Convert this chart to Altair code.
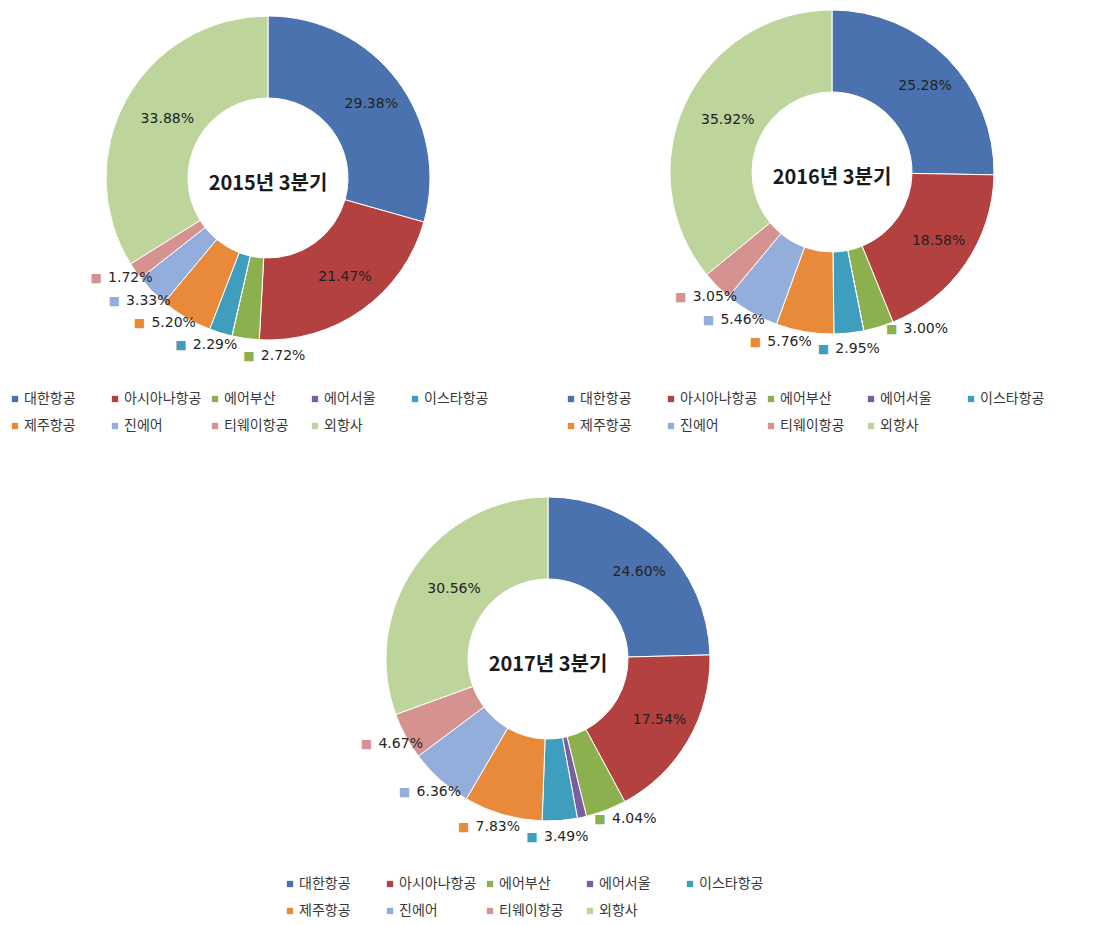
import math
import altair as alt
import pandas as pd

# ---------------- data ----------------
airlines = ["대한항공", "아시아나항공", "에어부산", "에어서울", "이스타항공",
            "제주항공", "진에어", "티웨이항공", "외항사"]
colors = ["#4A72AE", "#B3413F", "#8DB04F", "#7A5EA0", "#3F9EBD",
          "#E98A3B", "#93AEDB", "#D69290", "#BDD49B"]

share_2015 = [29.38, 21.47, 2.72, 0.0, 2.29, 5.20, 3.33, 1.72, 33.88]
share_2016 = [25.28, 18.58, 3.00, 0.0, 2.95, 5.76, 5.46, 3.05, 35.92]
share_2017 = [24.60, 17.54, 4.04, 0.91, 3.49, 7.83, 6.36, 4.67, 30.56]
titles = ["2015년 3분기", "2016년 3분기", "2017년 3분기"]

# ---------------- style / layout ----------------
OUTER_R = 162
INNER_R = 80
IN_LABEL_R = 122
OUT_LABEL_R = 178
panels_layout = [
    # donut centre (x, y), legend top-left (x, y)
    dict(c=(260, 167), lg=(0, 381)),
    dict(c=(824, 161), lg=(556, 381)),
    dict(c=(540, 648), lg=(275, 866)),
]
PCT_FONT = "DejaVu Sans"
KR_FONT = "Noto Sans CJK KR"


def outside_positions(values, R=OUT_LABEL_R, W=68, H=22):
    """Spread the small-slice labels around their slice mid-points so they don't collide."""
    total = sum(values)
    mids, cum = [], 0.0
    for v in values:
        mids.append(cum + v / 2)
        cum += v
    idx = sorted([i for i, v in enumerate(values) if 1 <= v < 10], key=lambda i: mids[i])
    pos = {i: mids[i] for i in idx}

    def xy(p):
        a = p / total * 2 * math.pi
        return R * math.sin(a), -R * math.cos(a)

    for _ in range(20000):
        moved = False
        for a, b in zip(idx, idx[1:]):
            xa, ya = xy(pos[a])
            xb, yb = xy(pos[b])
            if abs(xa - xb) < W and abs(ya - yb) < H:
                pos[a] -= 0.02
                pos[b] += 0.02
                moved = True
        if not moved:
            break
    return idx, pos


def panel(values, title, layout):
    cx, cy = layout["c"]
    lx, ly = layout["lg"]
    df = pd.DataFrame({
        "name": airlines,
        "value": values,
        "idx": list(range(len(airlines))),
        "inlabel": [f"{v:.2f}%" if v >= 10 else "" for v in values],
    })
    idx, pos = outside_positions(values)
    out_df = pd.DataFrame({
        "name": [airlines[i] for i in idx],
        "lpos": [pos[i] for i in idx],
        "label": [f"{values[i]:.2f}%" for i in idx],
        "sq": ["■" for _ in idx],
    })
    color = alt.Color(
        "name:N",
        scale=alt.Scale(domain=airlines, range=colors),
        legend=alt.Legend(
            title=None, orient="none", legendX=lx, legendY=ly, columns=5,
            direction="horizontal", gridAlign="all", symbolType="square",
            symbolSize=40, symbolStrokeWidth=0, labelFont=KR_FONT,
            labelFontSize=14, labelColor="#383838", labelOffset=2,
            columnPadding=6, rowPadding=13, padding=0,
        ),
    )
    arcs = alt.Chart(df).mark_arc(
        innerRadius=INNER_R, outerRadius=OUTER_R, stroke="white", strokeWidth=1
    ).encode(
        theta=alt.Theta("value:Q", stack=True),
        color=color,
        order=alt.Order("idx:Q"),
        x=alt.value(cx), y=alt.value(cy),
    )
    inside = alt.Chart(df).mark_text(
        radius=IN_LABEL_R, font=PCT_FONT, fontSize=14, color="#222222",
        align="center", baseline="middle", dx=6,
    ).encode(
        theta=alt.Theta("value:Q", stack=True),
        order=alt.Order("idx:Q"),
        detail="name:N",
        text="inlabel:N",
        x=alt.value(cx), y=alt.value(cy),
    )
    squares = alt.Chart(out_df).mark_text(
        radius=OUT_LABEL_R, font=PCT_FONT, fontSize=12, align="center",
        baseline="middle", dx=-25,
    ).encode(
        theta=alt.Theta("lpos:Q", stack=False),
        color=alt.Color("name:N", scale=alt.Scale(domain=airlines, range=colors), legend=None),
        text="sq:N",
        x=alt.value(cx), y=alt.value(cy),
    )
    outside = alt.Chart(out_df).mark_text(
        radius=OUT_LABEL_R, font=PCT_FONT, fontSize=14, color="#262626",
        align="left", baseline="middle", dx=-13,
    ).encode(
        theta=alt.Theta("lpos:Q", stack=False),
        text="label:N",
        x=alt.value(cx), y=alt.value(cy),
    )
    center = alt.Chart(pd.DataFrame({"t": [title]})).mark_text(
        font=KR_FONT, fontSize=20, fontWeight="bold", color="#1a1a1a",
        align="center", baseline="middle", dy=6,
    ).encode(text="t:N", x=alt.value(cx), y=alt.value(cy))
    return alt.layer(arcs, inside, squares, outside, center)


p1 = panel(share_2015, titles[0], panels_layout[0])
p2 = panel(share_2016, titles[1], panels_layout[1])
p3 = panel(share_2017, titles[2], panels_layout[2])

chart = alt.layer(p1, p2, p3).resolve_scale(
    color="independent", theta="independent"
).properties(width=1078, height=909, padding=0).configure_view(strokeWidth=0)

chart.save("out.html", embed_options={"renderer": "svg", "actions": False})
